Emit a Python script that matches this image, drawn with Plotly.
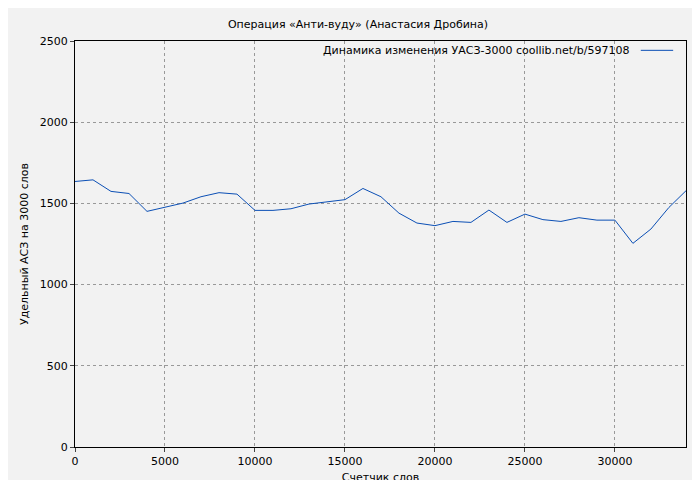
import plotly.graph_objects as go

words = [0,1000,2000,3000,4000,5000,6000,7000,8000,9000,10000,11000,12000,13000,14000,15000,16000,17000,18000,19000,20000,21000,22000,23000,24000,25000,26000,27000,28000,29000,30000,31000,32000,33000,33950]
values = [1635,1645,1574,1561,1451,1475,1502,1541,1566,1557,1457,1457,1467,1496,1510,1523,1592,1541,1440,1379,1363,1389,1383,1459,1383,1434,1400,1389,1412,1397,1397,1254,1342,1475,1578]
xticks = [0,5000,10000,15000,20000,25000,30000]
yticks = [0,500,1000,1500,2000,2500]
series_name = "Динамика изменения УАСЗ-3000 coollib.net/b/597108"
line_color = "#0b4fb5"

fig = go.Figure(go.Scatter(x=words, y=values, mode="lines", line=dict(color=line_color, width=1),
                           name=series_name, showlegend=False))
ax = dict(showline=True, linecolor="black", linewidth=1, mirror=True, ticks="outside", ticklen=4,
          gridcolor="#999999", griddash="dot", gridwidth=1, zeroline=False, automargin=False,
          tickfont=dict(size=11, color="black"))
fig.update_layout(
    width=700, height=480, paper_bgcolor="#f2f2f2", plot_bgcolor="#f2f2f2",
    font=dict(family="DejaVu Sans", size=11, color="black"),
    margin=dict(l=67, r=22, t=33, b=41),
    title=dict(text="Операция «Анти-вуду» (Анастасия Дробина)", x=0.5, xanchor="center", y=0.966, yanchor="middle", font=dict(size=11)),
    xaxis=dict(ax, range=[0, 33950], tickvals=xticks, ticktext=[str(v) for v in xticks],
               title=dict(text="Счетчик слов", standoff=6, font=dict(size=11))),
    yaxis=dict(ax, range=[0, 2500], tickvals=yticks, ticktext=[str(v) for v in yticks],
               title=dict(text="Удельный АСЗ на 3000 слов", standoff=8, font=dict(size=11))),
    annotations=[dict(text=series_name, xref="paper", yref="paper", x=0.912, y=0.977,
                      xanchor="right", yanchor="middle", showarrow=False, font=dict(size=11))],
    shapes=[dict(type="line", xref="paper", yref="paper", x0=0.926, x1=0.979, y0=0.977, y1=0.977,
                 line=dict(color=line_color, width=1))],
)
fig.write_html("out.html")
